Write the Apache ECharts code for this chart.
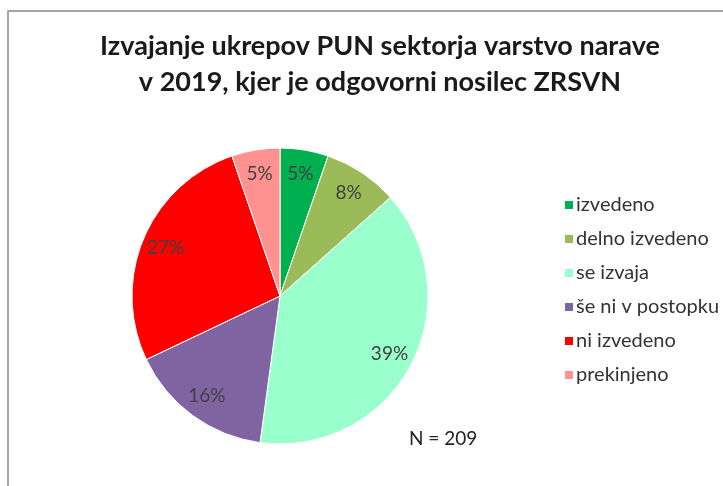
<!DOCTYPE html>
<html>
<head>
<meta charset="utf-8">
<script src="https://cdn.jsdelivr.net/npm/echarts@6/dist/echarts.min.js"></script>
<style>
    html, body {margin: 0; padding: 0; background: #fff;}
    #chart {width: 723px; height: 486px;}
</style>
</head>
<body>
<div id="chart"></div>
<script>
    // kategorije in število ukrepov (N = 209)
    var categories = ['izvedeno', 'delno izvedeno', 'se izvaja', 'še ni v postopku', 'ni izvedeno', 'prekinjeno'];
    var counts = [11, 17, 81, 33, 56, 11];
    var colors = ['#00B050', '#9BBB59', '#99FFCC', '#8064A2', '#FF0000', '#FF9191'];
    var titleText = 'Izvajanje ukrepov PUN sektorja varstvo narave\nv 2019, kjer je odgovorni nosilec ZRSVN';
    var noteText = 'N = 209';

    var font = 'Lato';
    var chart = echarts.init(document.getElementById('chart'));

    var pieData = categories.map(function (name, i) {
        return {name: name, value: counts[i], itemStyle: {color: colors[i]}};
    });

    var option = {
        animation: false,
        title: {
            text: titleText,
            left: 375,
            textAlign: 'center',
            top: 23,
            textStyle: {
                fontFamily: font,
                fontSize: 27,
                fontWeight: 'bold',
                color: '#1a1a1a',
                lineHeight: 36
            }
        },
        legend: {
            orient: 'vertical',
            left: 558,
            top: 189,
            icon: 'rect',
            itemWidth: 10,
            itemHeight: 10,
            itemGap: 12,
            data: categories,
            textStyle: {
                fontFamily: font,
                fontSize: 20,
                color: '#333',
                lineHeight: 22,
                padding: [0, 0, 0, -3]
            }
        },
        graphic: [
            {
                type: 'rect',
                shape: {x: 8, y: 11, width: 800, height: 600},
                style: {fill: 'none', stroke: '#8a8a8a', lineWidth: 1.5},
                silent: true
            },
            {
                type: 'text',
                left: 409,
                top: 429,
                style: {text: noteText, font: '19px ' + font, fill: '#222'}
            }
        ],
        series: [
            {
                name: 'ukrepi',
                type: 'pie',
                center: [280, 296],
                radius: 148,
                startAngle: 90,
                clockwise: true,
                label: {show: false},
                labelLine: {show: false},
                itemStyle: {borderColor: '#fff', borderWidth: 1},
                data: pieData
            },
            {
                // prozorna plast samo za oznake odstotkov
                name: 'oznake',
                type: 'pie',
                center: [280, 296],
                radius: [94, 148],
                startAngle: 90,
                clockwise: true,
                silent: true,
                itemStyle: {color: 'rgba(0,0,0,0)', borderWidth: 0},
                label: {
                    show: true,
                    position: 'inside',
                    fontFamily: font,
                    fontSize: 19,
                    color: '#404040',
                    formatter: function (p) {
                        return Math.round(p.percent) + '%';
                    }
                },
                labelLine: {show: false},
                data: categories.map(function (name, i) {
                    return {name: name, value: counts[i]};
                })
            }
        ]
    };

    chart.setOption(option);
</script>
</body>
</html>
